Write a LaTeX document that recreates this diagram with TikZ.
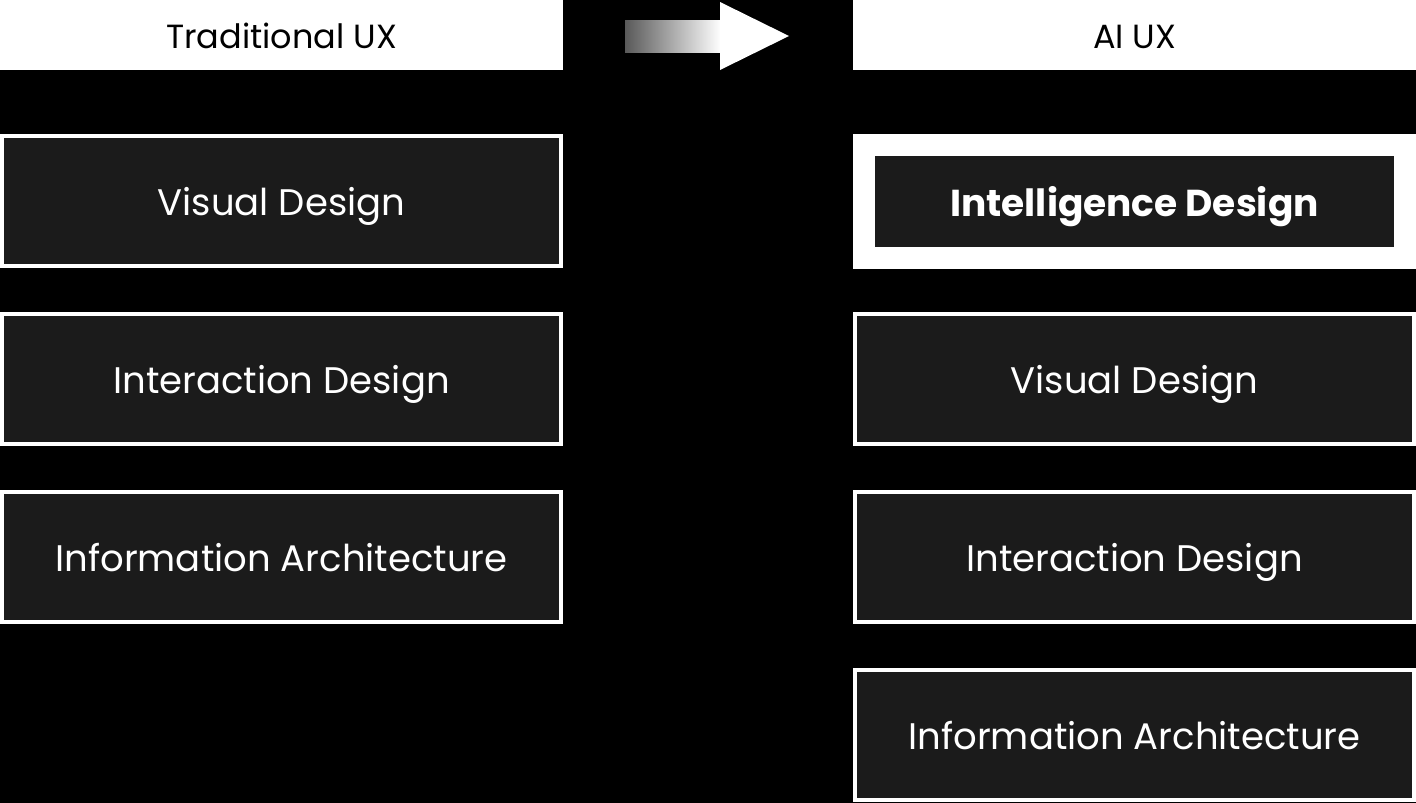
\documentclass[tikz,border=0pt]{standalone}
\usepackage{fontspec}
\setmainfont{Poppins}
\usetikzlibrary{shadings}
\definecolor{boxfill}{HTML}{1B1B1B}
\begin{document}
\begin{tikzpicture}[x=1pt,y=-1pt,
  header/.style={fill=white,draw=none,minimum width=563pt,minimum height=70pt,inner sep=0pt,anchor=north west,text=black,text height=27pt,text depth=0pt,font=\fontsize{33.5}{40}\selectfont},
  card/.style={fill=boxfill,draw=white,line width=4pt,minimum width=559pt,minimum height=130pt,inner sep=0pt,text=white,text height=29pt,text depth=0pt,font=\fontsize{37}{44}\selectfont},
  hicard/.style={fill=boxfill,draw=none,minimum width=519pt,minimum height=91pt,inner sep=0pt,text=white,text height=29pt,text depth=0pt,font=\fontsize{37.5}{44}\selectfont\bfseries}]
\fill[black] (0,0) rectangle (1416,803);
\useasboundingbox (0,0) rectangle (1416,803);
\node[header] (lh) at (0,0) {Traditional UX};
\node[header] (rh) at (853,0) {AI UX};
% arrow
\shade[left color=black!65,right color=white] (625,20) rectangle (721,52.7);
\fill[white] (720,2) -- (789,36) -- (720,70) -- cycle;
% left column
\node[card] (l1) at (281.5,201) {Visual Design};
\node[card] (l2) at (281.5,379) {Interaction Design};
\node[card] (l3) at (281.5,557) {Information Architecture};
% right column
\fill[white] (853,134) rectangle (1416,268.5);
\node[hicard] (r1) at (1134.5,201.5) {Intelligence Design};
\node[card] (r2) at (1134.5,379) {Visual Design};
\node[card] (r3) at (1134.5,557) {Interaction Design};
\node[card] (r4) at (1134.5,735) {Information Architecture};
\end{tikzpicture}
\end{document}
